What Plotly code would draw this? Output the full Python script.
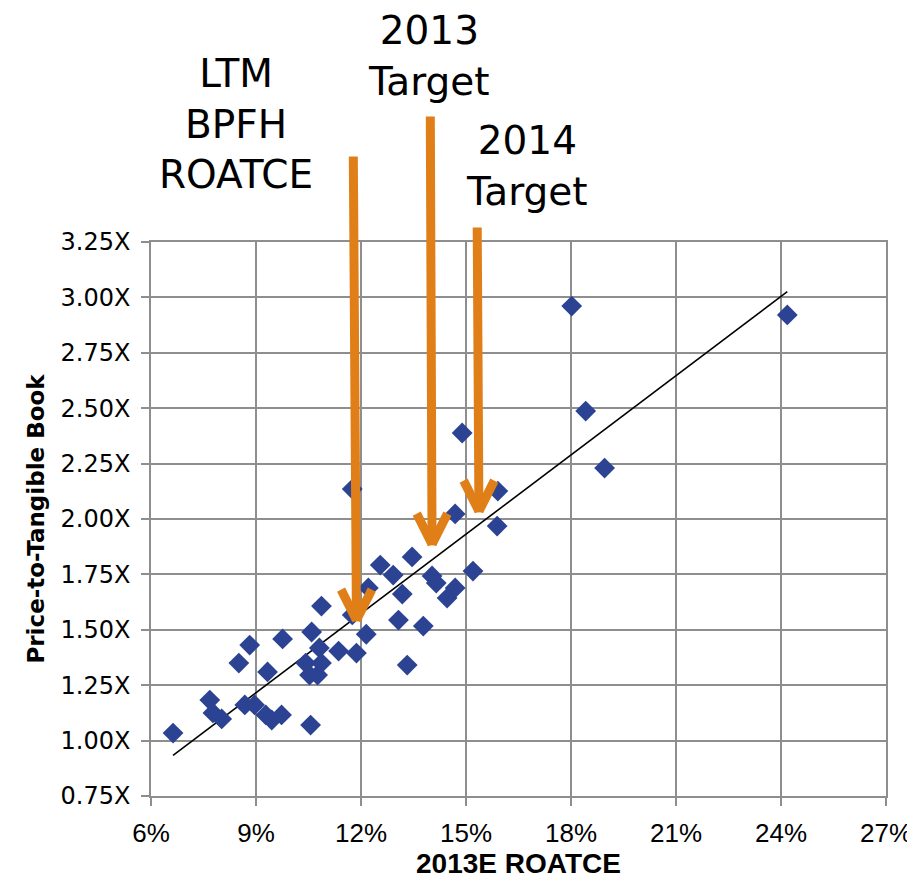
import numpy as np
import plotly.graph_objects as go

# ---- data ----
roatce_pct = [6.63, 7.68, 7.77, 8.02, 8.51, 8.68, 8.82, 8.96, 9.28, 9.33, 9.45, 9.73, 9.76,
              10.42, 10.53, 10.56, 10.59, 10.76, 10.81, 10.87, 10.87, 11.36, 11.75, 11.75,
              11.87, 12.15, 12.21, 12.55, 12.92, 13.07, 13.18, 13.32, 13.46, 13.78, 14.03,
              14.15, 14.46, 14.69, 14.69, 14.89, 15.20, 15.89, 15.91, 18.02, 18.42, 18.96, 24.18]
ptb_multiple = [1.034, 1.183, 1.125, 1.098, 1.350, 1.161, 1.431, 1.161, 1.116, 1.310, 1.093, 1.116, 1.459,
                1.350, 1.296, 1.070, 1.490, 1.296, 1.418, 1.607, 1.350, 1.404, 2.135, 1.567,
                1.395, 1.480, 1.689, 1.792, 1.747, 1.544, 1.661, 1.341, 1.829, 1.517, 1.743,
                1.711, 1.643, 1.689, 2.023, 2.388, 1.765, 1.968, 2.126, 2.961, 2.487, 2.230, 2.921]

# arrows: label, target ROATCE (tip x), tip y, tail x, tail y (above plot)
arrow_labels = ["LTM<br>BPFH<br>ROATCE", "2013<br>Target", "2014<br>Target"]
arrow_tip_x = [11.87, 14.03, 15.37]
arrow_tip_y = [1.558, 1.901, 2.050]
arrow_tail_x = [11.78, 13.98, 15.32]
arrow_tail_y = [3.643, 3.823, 3.322]
label_x = [8.42, 13.95, 16.74]
label_y_paper = [1.213, 1.335, 1.137]

x_ticks = [6, 9, 12, 15, 18, 21, 24, 27]
y_ticks = [0.75, 1.00, 1.25, 1.50, 1.75, 2.00, 2.25, 2.50, 2.75, 3.00, 3.25]

# linear trendline (Excel-style) across the data's x extent
slope, intercept = np.polyfit(roatce_pct, ptb_multiple, 1)
trend_x = [min(roatce_pct), max(roatce_pct)]
trend_y = [slope * v + intercept for v in trend_x]

ORANGE = "#E07F17"
BLUE = "#2B4392"
GRID = "#8E8E8E"

fig = go.Figure()
fig.add_trace(go.Scatter(x=trend_x, y=trend_y, mode="lines",
                         line=dict(color="black", width=1.6), showlegend=False, hoverinfo="skip"))
fig.add_trace(go.Scatter(x=roatce_pct, y=ptb_multiple, mode="markers",
                         marker=dict(symbol="diamond", size=16, color=BLUE, line=dict(width=0)),
                         showlegend=False))

annotations = []
arm_dx = 0.46
arm_dy = 0.13
for lab, tx, ty, sx, sy, lx, ly in zip(arrow_labels, arrow_tip_x, arrow_tip_y, arrow_tail_x,
                                       arrow_tail_y, label_x, label_y_paper):
    # shaft
    annotations.append(dict(x=tx, y=ty - 0.02, ax=sx, ay=sy, xref="x", yref="y", axref="x", ayref="y",
                            text="", showarrow=True, arrowhead=0, arrowwidth=9,
                            arrowcolor=ORANGE, font=dict(size=1), standoff=0, startstandoff=0))
    # chevron arms
    for sgn in (-1, 1):
        annotations.append(dict(x=tx, y=ty - 0.015, ax=tx + sgn * arm_dx, ay=ty + arm_dy,
                                xref="x", yref="y", axref="x", ayref="y",
                                text="", showarrow=True, arrowhead=0, arrowwidth=9,
                                arrowcolor=ORANGE, font=dict(size=1), standoff=0, startstandoff=0))
    annotations.append(dict(x=lx, y=ly, xref="x", yref="paper", text=lab, showarrow=False,
                            xanchor="center", yanchor="middle", align="center",
                            font=dict(family="DejaVu Sans", size=39, color="black")))

fig.update_layout(
    width=915, height=879,
    margin=dict(l=143, r=37, t=234, b=91, autoexpand=False),
    paper_bgcolor="white", plot_bgcolor="white",
    annotations=annotations,
    xaxis=dict(range=[6, 27], tickmode="array", tickvals=x_ticks,
               ticktext=[f"{v}%" for v in x_ticks], automargin=False,
               showgrid=True, gridcolor=GRID, gridwidth=1.5,
               showline=True, linecolor=GRID, linewidth=1.5, mirror=True,
               ticks="outside", ticklen=8, tickcolor=GRID, tickwidth=1.5,
               ticklabelstandoff=5, zeroline=False,
               tickfont=dict(family="Liberation Sans Narrow, Liberation Sans, Arial", size=26, color="black"),
               title=dict(text="<b>2013E ROATCE</b>", standoff=2,
                          font=dict(family="Liberation Sans", size=28, color="black"))),
    yaxis=dict(range=[0.75, 3.25], tickmode="array", tickvals=y_ticks,
               ticktext=[f"{v:.2f}X" for v in y_ticks], automargin=False,
               showgrid=True, gridcolor=GRID, gridwidth=1.5,
               showline=True, linecolor=GRID, linewidth=1.5, mirror=True,
               ticks="outside", ticklen=8, tickcolor=GRID, tickwidth=1.5,
               ticklabelstandoff=6, zeroline=False,
               tickfont=dict(family="DejaVu Sans", size=24, color="black"),
               title=dict(text="<b>Price-to-Tangible Book</b>", standoff=10,
                          font=dict(family="DejaVu Sans", size=23, color="black"))),
)

fig.write_html("out.html")
